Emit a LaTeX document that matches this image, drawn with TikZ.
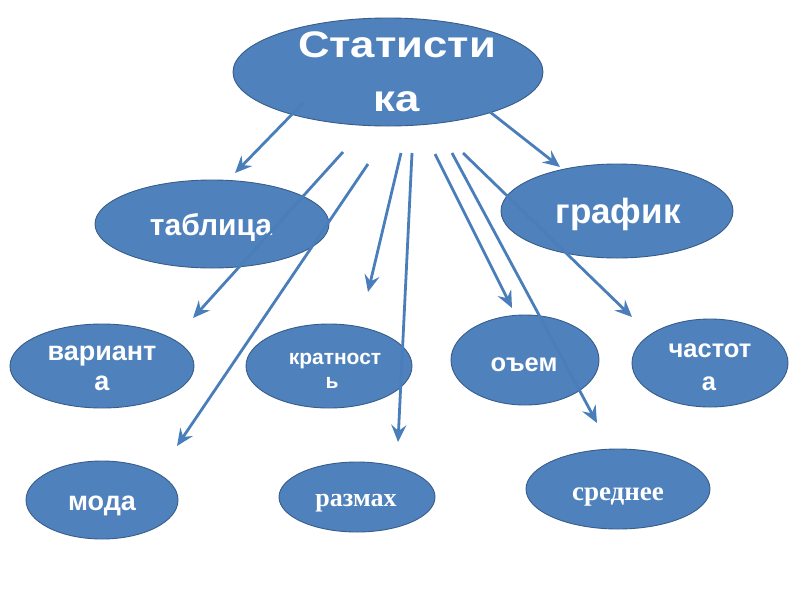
\documentclass[tikz,border=0pt]{standalone}
\usepackage{fontspec}
\usetikzlibrary{shapes.geometric,arrows.meta}
\newfontfamily\bsans{Liberation Sans}
\newfontfamily\wsans[FakeStretch=1.18]{Liberation Sans}
\newfontfamily\bserif{Liberation Serif}
\definecolor{fillblue}{HTML}{4F81BD}
\definecolor{edgeblue}{HTML}{385D8A}
\definecolor{arrowblue}{HTML}{4A7EBB}
\newcommand{\fs}[1]{\fontsize{#1}{#1}\selectfont}
\begin{document}
\begin{tikzpicture}[x=1pt,y=-1pt,
  bubble/.style={ellipse, draw=edgeblue, line width=0.9pt, fill=fillblue, inner sep=0pt},
  lbl/.style={text=white, inner sep=0pt, anchor=base},
  arr/.style={draw=arrowblue, line width=2.8pt, -{Stealth[length=17pt,width=15pt,inset=6pt]}}]
\useasboundingbox[fill=white] (0,0) rectangle (800,600);

% ellipses
\node[bubble, minimum width=310pt, minimum height=108pt] (stat) at (388,72) {};
\node[bubble, minimum width=234pt, minimum height=88pt] (tab) at (212,224) {};
\node[bubble, minimum width=232pt, minimum height=94pt] (graf) at (617,211) {};
\node[bubble, minimum width=184pt, minimum height=84pt] (var) at (102,366) {};
\node[bubble, minimum width=166pt, minimum height=84pt] (krat) at (329,366) {};
\node[bubble, minimum width=148pt, minimum height=90pt] (obem) at (525,360) {};
\node[bubble, minimum width=156pt, minimum height=88pt] (chast) at (710,363) {};
\node[bubble, minimum width=152pt, minimum height=78pt] (moda) at (102,500) {};
\node[bubble, minimum width=156pt, minimum height=70pt] (razm) at (357,497) {};
\node[bubble, minimum width=184pt, minimum height=80pt] (sred) at (618,489) {};

% labels
\node[lbl, font=\wsans\bfseries\fs{37}] (statA) at (397,57) {Статисти};
\node[lbl, font=\wsans\bfseries\fs{37}] (statB) at (397,111) {ка};
\node[lbl, font=\bsans\bfseries\fs{30}] (tabT) at (211,235) {таблица};
\node[lbl, font=\bsans\bfseries\fs{35}] (grafT) at (618,223) {график};
\node[lbl, font=\bsans\bfseries\fs{27}] (varA) at (102,360) {вариант};
\node[lbl, font=\bsans\bfseries\fs{27}] (varB) at (102,390) {а};
\node[lbl, font=\bsans\bfseries\fs{21}] (kratA) at (335,364) {кратност};
\node[lbl, font=\bsans\bfseries\fs{21}] (kratB) at (332,388) {ь};
\node[lbl, font=\bsans\bfseries\fs{25.5}] (obemT) at (524,371) {оъем};
\node[lbl, font=\bsans\bfseries\fs{25.5}] (chastA) at (710,357) {частот};
\node[lbl, font=\bsans\bfseries\fs{25.5}] (chastB) at (709,390) {а};
\node[lbl, font=\bsans\bfseries\fs{27}] (modaT) at (102,510) {мода};
\node[lbl, font=\bserif\bfseries\fs{26}] (razmT) at (356,506) {размах};
\node[lbl, font=\bserif\bfseries\fs{27}] (sredT) at (618,500) {среднее};

% arrow end points
\coordinate (s1) at (303,103); \coordinate (e1) at (235,173);
\coordinate (s2) at (490,112); \coordinate (e2) at (560,167);
\coordinate (s3) at (343,152); \coordinate (e3) at (193,318);
\coordinate (s4) at (368,164); \coordinate (e4) at (177,446);
\coordinate (s5) at (401,153); \coordinate (e5) at (368,292);
\coordinate (s6) at (412,153); \coordinate (e6) at (398,442);
\coordinate (s7) at (435,154); \coordinate (e7) at (512,308);
\coordinate (s8) at (452,153); \coordinate (e8) at (597,423);
\coordinate (s9) at (463,153); \coordinate (e9) at (632,317);

\foreach \i in {1,...,9} \draw[arr] (s\i) -- (e\i);
\end{tikzpicture}
\end{document}
